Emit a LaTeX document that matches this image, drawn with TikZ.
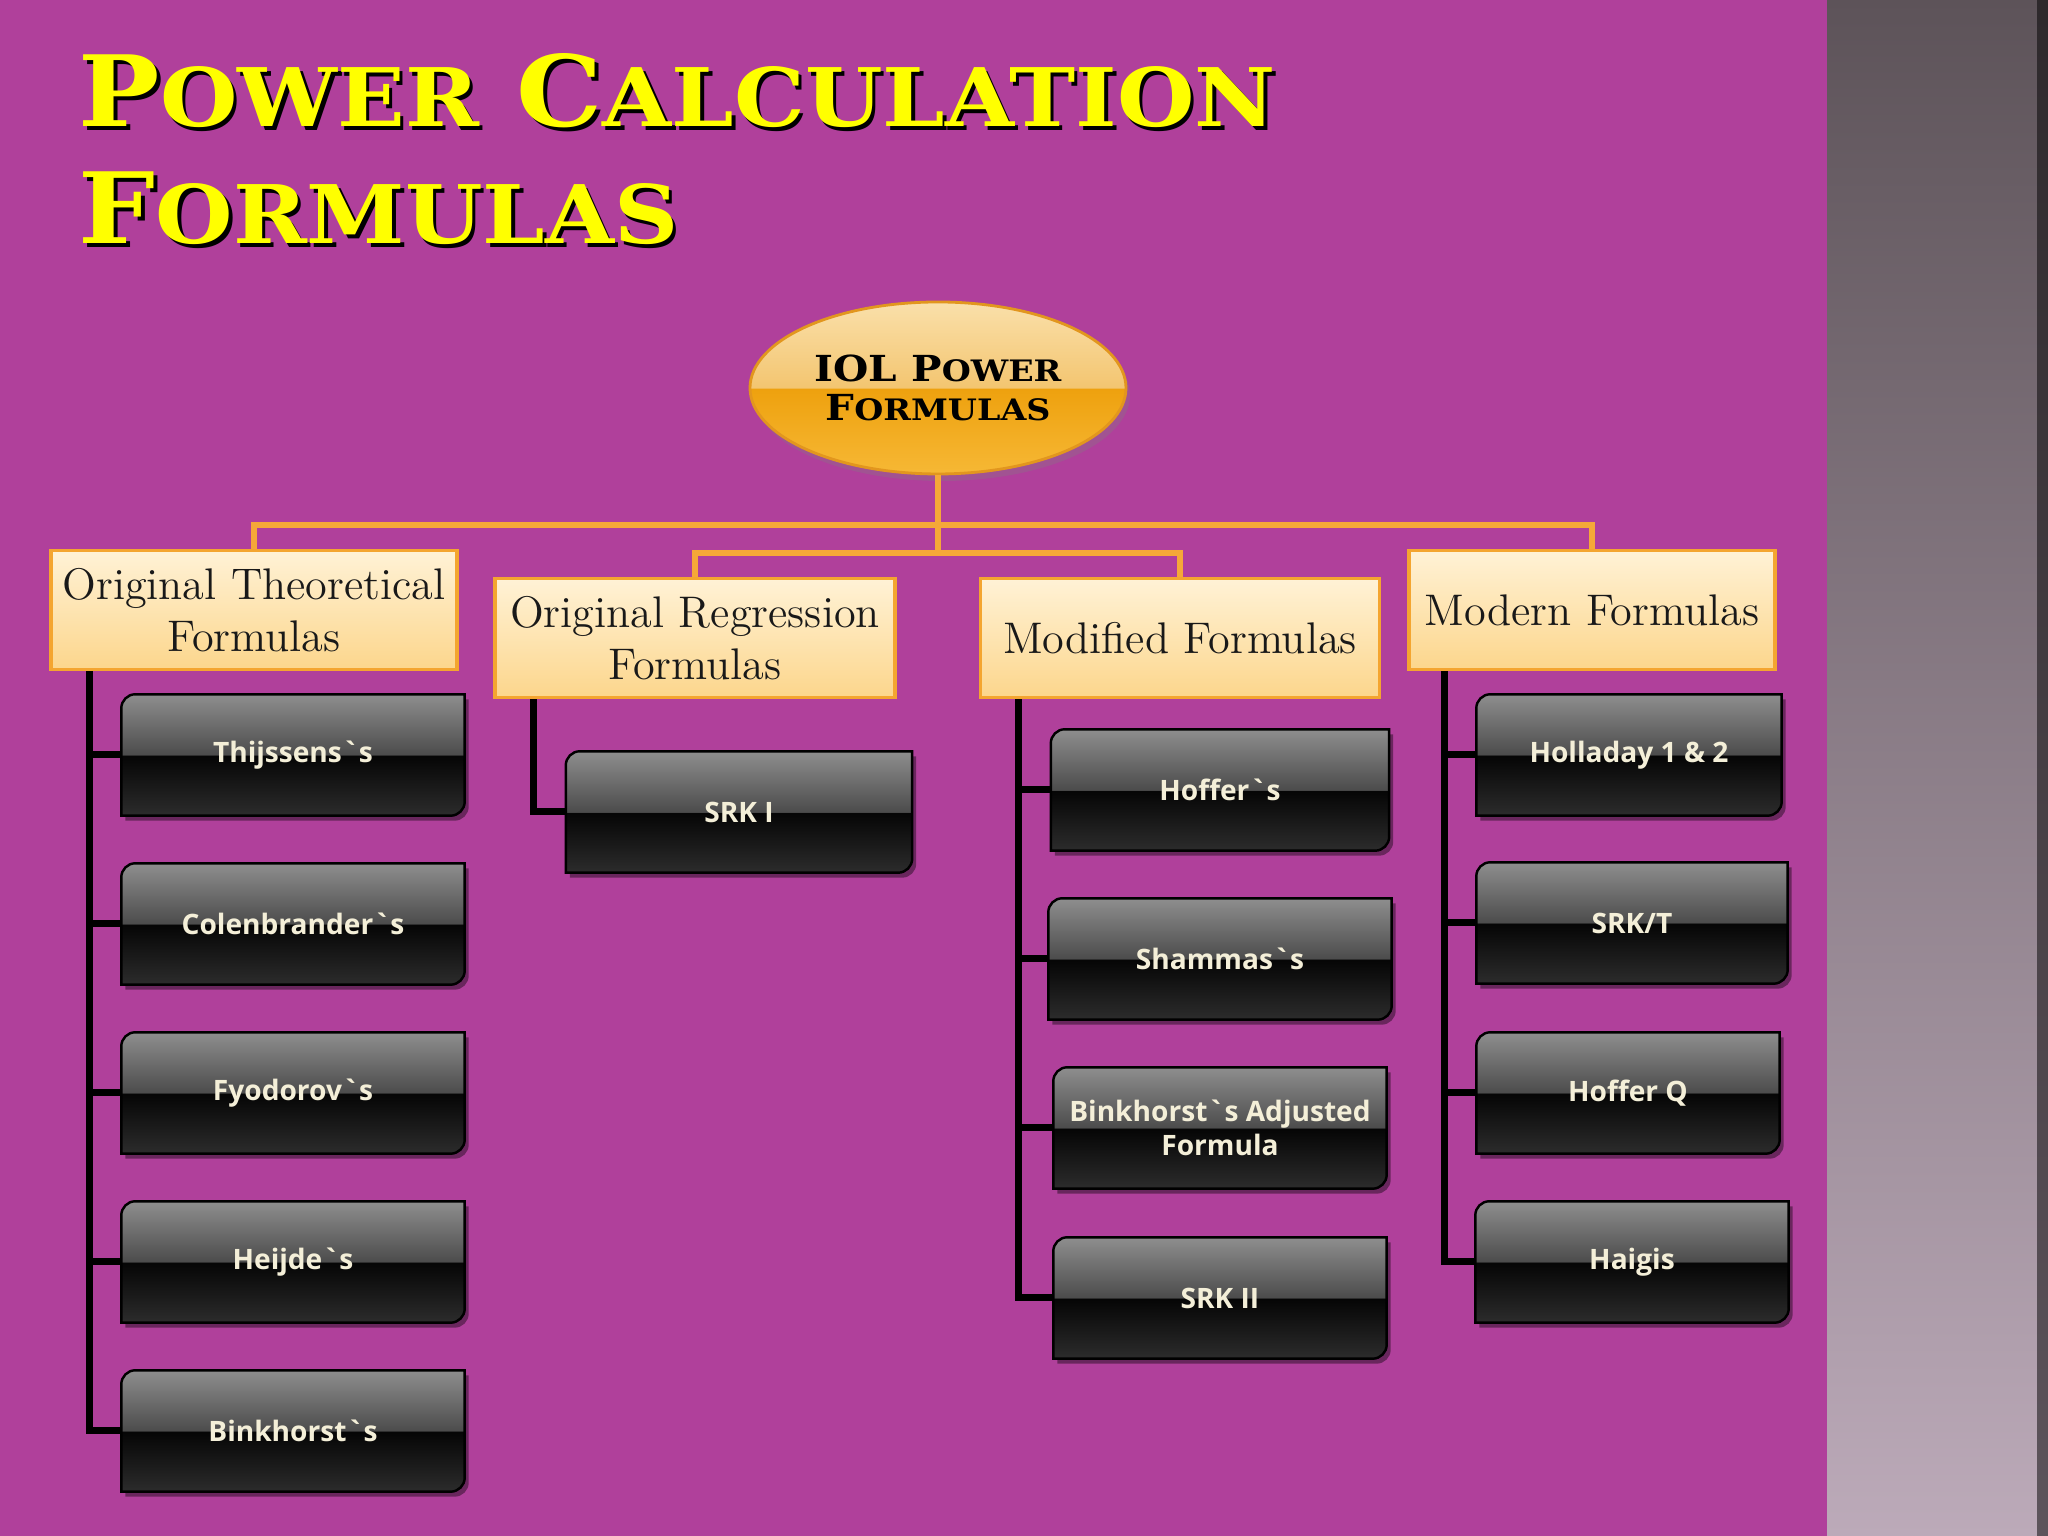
\documentclass[tikz,border=0pt]{standalone}
\usepackage{fontspec}
\setsansfont{Open Sans}
\newfontfamily\capsfont{DejaVu Serif}[FakeStretch=1.13]
\newfontfamily\headfont{DejaVu Serif}[FakeStretch=1.10]
\usepackage{tikz}
\usetikzlibrary{shapes.geometric,shadows}

\definecolor{slide}{RGB}{176,64,155}
\definecolor{titleyellow}{RGB}{255,255,0}
\definecolor{busline}{RGB}{245,168,56}
\definecolor{catedge}{RGB}{244,165,48}
\definecolor{cattop}{RGB}{255,242,214}
\definecolor{catbot}{RGB}{252,214,140}
\definecolor{cream}{RGB}{244,239,216}
\definecolor{stripTop}{RGB}{93,83,89}
\definecolor{stripBot}{RGB}{188,170,185}
\definecolor{gA}{RGB}{44,44,44}
\definecolor{gB}{RGB}{5,5,5}
\definecolor{gC}{RGB}{76,76,76}
\definecolor{gD}{RGB}{142,142,142}
\definecolor{ovA}{RGB}{246,184,53}
\definecolor{ovB}{RGB}{238,161,14}
\definecolor{ovC}{RGB}{243,197,112}
\definecolor{ovD}{RGB}{250,224,170}
\definecolor{ovedge}{RGB}{226,150,30}

\pgfdeclareverticalshading{boxgloss}{100bp}{color(0bp)=(gA); color(25bp)=(gA); color(49.9bp)=(gB); color(50bp)=(gC); color(75bp)=(gD); color(100bp)=(gD)}
\pgfdeclareverticalshading{ovalgloss}{100bp}{color(0bp)=(ovA); color(25bp)=(ovA); color(49.9bp)=(ovB); color(50bp)=(ovC); color(75bp)=(ovD); color(100bp)=(ovD)}

\pgfdeclarelayer{background}
\pgfsetlayers{background,main}

\newcommand{\tsc}[2]{{\fontsize{28}{30}\selectfont #1}{\fontsize{23}{30}\selectfont #2}}
\newcommand{\osc}[2]{{\fontsize{10.2}{11}\selectfont #1}{\fontsize{8.4}{11}\selectfont #2}}
\newcommand{\gr}{\textasciigrave}
\newcommand{\formshape}[1]{%
  \fill[black,opacity=0.4,transform canvas={shift={(0.04cm,-0.05cm)}}] (#1.south west) -- ([yshift=-4pt]#1.north west) arc[start angle=180,end angle=90,radius=4pt] -- (#1.north east) -- ([yshift=4pt]#1.south east) arc[start angle=0,end angle=-90,radius=4pt] -- cycle;
  \draw[black,line width=0.7pt,shade,shading=boxgloss] (#1.south west) -- ([yshift=-4pt]#1.north west) arc[start angle=180,end angle=90,radius=4pt] -- (#1.north east) -- ([yshift=4pt]#1.south east) arc[start angle=0,end angle=-90,radius=4pt] -- cycle;}

\tikzstyle{headline}=[anchor=base west,inner sep=0pt,font=\headfont\bfseries\fontsize{28}{30}\selectfont]
\tikzstyle{oval}=[ellipse,draw=ovedge,line width=0.8pt,shade,shading=ovalgloss,minimum width=3.76cm,minimum height=1.72cm,inner sep=0pt,align=center,font=\capsfont\bfseries\fontsize{10.2}{11}\selectfont,drop shadow={opacity=0.3,shadow xshift=0.04cm,shadow yshift=-0.07cm}]
\tikzstyle{category}=[draw=catedge,line width=1.1pt,top color=cattop,bottom color=catbot,minimum height=1.19cm,inner sep=0pt,align=center,text=black!90,font=\fontsize{12.6}{14.8}\selectfont]
\tikzstyle{formula}=[minimum width=3.42cm,minimum height=1.2cm,inner sep=0pt,align=center,text=cream,font=\sffamily\bfseries\fontsize{8}{9.5}\selectfont]
\tikzstyle{feed}=[draw=busline,line width=1.7pt]
\tikzstyle{spine}=[draw=black,line width=2pt]

\begin{document}
\begin{tikzpicture}

      \useasboundingbox (0,0) rectangle (20.48,15.36);
      \begin{pgfonlayer}{background}
        \fill[slide] (0,0) rectangle (18.27,15.36);
        \shade[top color=stripTop,bottom color=stripBot] (18.27,0) rectangle (20.48,15.36);
        \fill[black,opacity=0.5] (20.37,0) rectangle (20.48,15.36);
      \end{pgfonlayer}

      \node[headline,text=black] (titleshade) at (0.815,14.055) {\tsc{P}{OWER} \tsc{C}{ALCULATION}};
      \node[headline,text=titleyellow] (title) at (0.78,14.09) {\tsc{P}{OWER} \tsc{C}{ALCULATION}};
      \node[headline,text=black] (title2shade) at (0.815,12.885) {\tsc{F}{ORMULAS}};
      \node[headline,text=titleyellow] (title2) at (0.78,12.92) {\tsc{F}{ORMULAS}};

      \node[oval] (iol) at (9.38,11.48) {\osc{IOL}{} \osc{P}{OWER}\\\osc{F}{ORMULAS}};

      \node[category,minimum width=4.06cm] (theo) at (2.54,9.26) {Original Theoretical\\Formulas};
      \node[category,minimum width=4.00cm] (regr) at (6.95,8.98) {Original Regression\\Formulas};
      \node[category,minimum width=3.99cm] (modif) at (11.80,8.98) {Modified Formulas};
      \node[category,minimum width=3.66cm] (modern) at (15.92,9.26) {Modern Formulas};

      \node[formula] (thij) at (2.93,7.81) {Thijssens\gr s};
      \node[formula] (colen) at (2.93,6.12) {Colenbrander\gr s};
      \node[formula] (fyod) at (2.93,4.43) {Fyodorov\gr s};
      \node[formula] (heij) at (2.93,2.74) {Heijde\gr s};
      \node[formula] (bink) at (2.93,1.05) {Binkhorst\gr s};

      \node[formula,minimum width=3.45cm] (srki) at (7.39,7.24) {SRK I};

      \node[formula,minimum width=3.37cm] (hoff) at (12.20,7.46) {Hoffer\gr s};
      \node[formula,minimum width=3.42cm] (shamm) at (12.20,5.77) {Shammas\gr s};
      \node[formula,minimum width=3.32cm] (binkadj) at (12.20,4.08) {Binkhorst\gr s Adjusted\\Formula};
      \node[formula,minimum width=3.32cm] (srkii) at (12.20,2.38) {SRK II};

      \node[formula,minimum width=3.04cm] (holl) at (16.29,7.81) {Holladay 1 \& 2};
      \node[formula,minimum width=3.10cm] (srkt) at (16.32,6.13) {SRK/T};
      \node[formula,minimum width=3.02cm] (hofq) at (16.28,4.43) {Hoffer Q};
      \node[formula,minimum width=3.12cm] (haig) at (16.32,2.74) {Haigis};

      \begin{pgfonlayer}{background}
        \formshape{thij}
        \formshape{colen}
        \formshape{fyod}
        \formshape{heij}
        \formshape{bink}
        \formshape{srki}
        \formshape{hoff}
        \formshape{shamm}
        \formshape{binkadj}
        \formshape{srkii}
        \formshape{holl}
        \formshape{srkt}
        \formshape{hofq}
        \formshape{haig}
      \end{pgfonlayer}

      \draw[feed] (iol.south) -- ++(0,-0.81);
      \draw[feed] (theo.north) -- ++(0,0.235) -| (modern.north);
      \draw[feed] (regr.north) -- ++(0,0.24) -| (modif.north);

      \draw[spine] ([xshift=0.4cm]theo.south west) |- (thij.west);
      \draw[spine] ([xshift=0.4cm]theo.south west) |- (colen.west);
      \draw[spine] ([xshift=0.4cm]theo.south west) |- (fyod.west);
      \draw[spine] ([xshift=0.4cm]theo.south west) |- (heij.west);
      \draw[spine] ([xshift=0.4cm]theo.south west) |- (bink.west);

      \draw[spine] ([xshift=0.4cm]regr.south west) |- (srki.west);

      \draw[spine] ([xshift=0.4cm]modif.south west) |- (hoff.west);
      \draw[spine] ([xshift=0.4cm]modif.south west) |- (shamm.west);
      \draw[spine] ([xshift=0.4cm]modif.south west) |- (binkadj.west);
      \draw[spine] ([xshift=0.4cm]modif.south west) |- (srkii.west);

      \draw[spine] ([xshift=0.37cm]modern.south west) |- (holl.west);
      \draw[spine] ([xshift=0.37cm]modern.south west) |- (srkt.west);
      \draw[spine] ([xshift=0.37cm]modern.south west) |- (hofq.west);
      \draw[spine] ([xshift=0.37cm]modern.south west) |- (haig.west);

    \end{tikzpicture}
\end{document}
